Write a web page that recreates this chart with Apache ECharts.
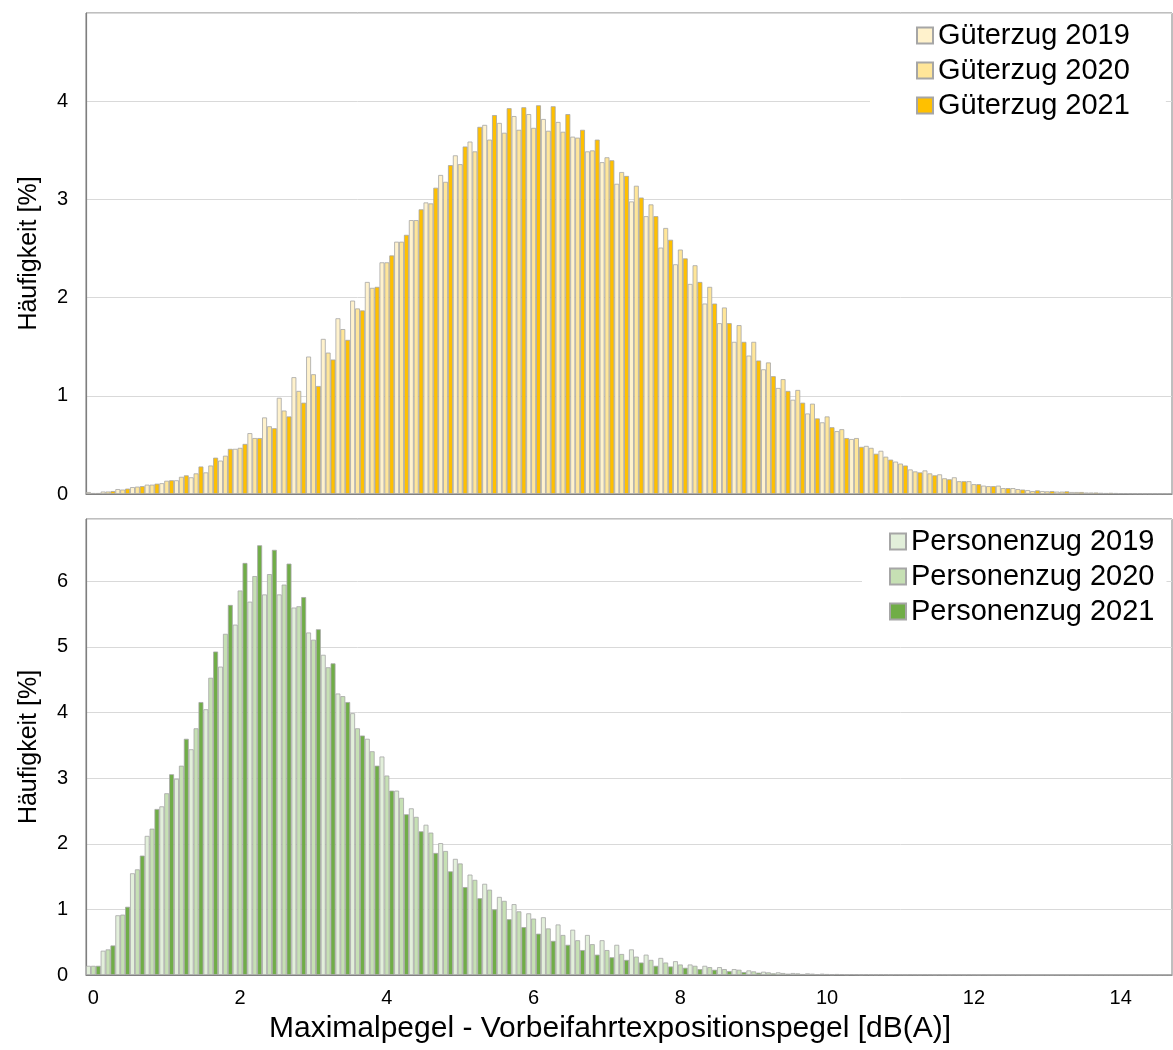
<!DOCTYPE html>
<html>
<head>
<meta charset="utf-8">
<script src="https://cdn.jsdelivr.net/npm/echarts@6/dist/echarts.min.js"></script>
<style>
html,body{margin:0;padding:0;background:#fff;}
#chart{width:1173px;height:1050px;}
</style>
</head>
<body>
<div id="chart"></div>
<script>
// Bin labels (dB(A)), 0.2 dB bins
const bins = ['0','0.2','0.4','0.6','0.8','1','1.2','1.4','1.6','1.8',
  '2','2.2','2.4','2.6','2.8','3','3.2','3.4','3.6','3.8',
  '4','4.2','4.4','4.6','4.8','5','5.2','5.4','5.6','5.8',
  '6','6.2','6.4','6.6','6.8','7','7.2','7.4','7.6','7.8',
  '8','8.2','8.4','8.6','8.8','9','9.2','9.4','9.6','9.8',
  '10','10.2','10.4','10.6','10.8','11','11.2','11.4','11.6','11.8',
  '12','12.2','12.4','12.6','12.8','13','13.2','13.4','13.6','13.8',
  '14','14.2','14.4','14.6'];
const xTickLabels = ['0','2','4','6','8','10','12','14'];

const gueter2019 = [0.02,0.025,0.05,0.07,0.095,0.11,0.14,0.17,0.22,0.34,
  0.46,0.62,0.78,0.98,1.19,1.40,1.58,1.79,1.97,2.16,
  2.36,2.57,2.79,2.97,3.25,3.45,3.59,3.76,3.78,3.85,
  3.87,3.82,3.79,3.64,3.49,3.38,3.16,2.98,2.83,2.51,
  2.34,2.14,1.94,1.74,1.55,1.41,1.27,1.08,0.96,0.82,
  0.73,0.64,0.56,0.49,0.44,0.33,0.25,0.24,0.20,0.17,
  0.13,0.085,0.085,0.06,0.04,0.03,0.024,0.02,0.015,0.012,
  0.01,0.007,0.005,0.004];
const gueter2020 = [0.01,0.025,0.045,0.075,0.095,0.135,0.175,0.21,0.29,0.39,
  0.47,0.57,0.69,0.85,1.05,1.22,1.44,1.68,1.89,2.10,
  2.36,2.57,2.79,2.96,3.18,3.36,3.49,3.61,3.68,3.71,
  3.73,3.70,3.69,3.63,3.50,3.43,3.28,3.14,2.95,2.71,
  2.49,2.33,2.11,1.90,1.72,1.55,1.34,1.17,1.06,0.92,
  0.79,0.66,0.57,0.47,0.38,0.31,0.23,0.21,0.16,0.13,
  0.10,0.08,0.06,0.05,0.03,0.027,0.024,0.02,0.015,0.01,
  0.008,0.006,0.005,0.004];
const gueter2021 = [0.01,0.03,0.055,0.08,0.105,0.14,0.19,0.28,0.37,0.46,
  0.51,0.57,0.67,0.79,0.93,1.10,1.37,1.57,1.87,2.11,
  2.43,2.64,2.90,3.12,3.35,3.54,3.74,3.86,3.93,3.94,
  3.96,3.95,3.87,3.71,3.61,3.40,3.24,3.02,2.83,2.59,
  2.40,2.16,1.94,1.74,1.55,1.36,1.20,1.05,0.93,0.77,
  0.68,0.57,0.48,0.41,0.35,0.29,0.22,0.19,0.15,0.13,
  0.10,0.08,0.06,0.045,0.037,0.03,0.027,0.02,0.015,0.012,
  0.008,0.006,0.005,0.004];

const personen2019 = [0.14,0.37,0.91,1.55,2.12,2.57,2.99,3.44,4.05,4.70,
  5.34,5.69,5.80,5.80,5.60,5.22,4.88,4.29,3.99,3.60,
  3.33,2.81,2.54,2.29,2.01,1.77,1.53,1.39,1.19,1.08,
  0.94,0.88,0.77,0.69,0.61,0.53,0.46,0.39,0.31,0.26,
  0.21,0.16,0.14,0.12,0.09,0.07,0.05,0.04,0.03,0.025,
  0.02,0.015,0.012,0.01,0.009,0.008,0.007,0.006,0.005,0.005,
  0.004,0.004,0.003,0.003,0.003,0.002,0.002,0.002,0.002,0.002,
  0.002,0.001,0.001,0.001];
const personen2020 = [0.14,0.39,0.92,1.61,2.23,2.77,3.19,3.76,4.53,5.20,
  5.86,6.08,6.11,5.95,5.62,5.11,4.69,4.25,3.76,3.41,
  3.04,2.70,2.41,2.17,1.89,1.70,1.45,1.30,1.13,0.97,
  0.86,0.71,0.61,0.53,0.47,0.38,0.32,0.28,0.23,0.19,
  0.16,0.14,0.12,0.09,0.08,0.055,0.04,0.03,0.025,0.02,
  0.015,0.012,0.01,0.008,0.007,0.006,0.005,0.005,0.004,0.004,
  0.003,0.003,0.003,0.002,0.002,0.002,0.002,0.002,0.001,0.001,
  0.001,0.001,0.001,0.001];
const personen2021 = [0.14,0.45,1.04,1.82,2.53,3.06,3.60,4.16,4.93,5.64,
  6.28,6.55,6.48,6.27,5.76,5.27,4.75,4.16,3.65,3.19,
  2.81,2.45,2.19,1.86,1.58,1.34,1.17,1.00,0.85,0.73,
  0.63,0.52,0.46,0.38,0.31,0.27,0.23,0.19,0.14,0.13,
  0.11,0.09,0.08,0.06,0.045,0.035,0.025,0.02,0.015,0.012,
  0.01,0.008,0.007,0.006,0.005,0.004,0.004,0.003,0.003,0.003,
  0.002,0.002,0.002,0.002,0.002,0.001,0.001,0.001,0.001,0.001,
  0.001,0.001,0.001,0.001];

const seriesNamesTop = ['Güterzug 2019','Güterzug 2020','Güterzug 2021'];
const seriesNamesBottom = ['Personenzug 2019','Personenzug 2020','Personenzug 2021'];
const colorsTop = ['#FFF2CC','#FFE699','#FFC000'];
const colorsBottom = ['#E2EFDA','#C6E0B4','#70AD47'];
const yName = 'Häufigkeit [%]';
const xName = 'Maximalpegel - Vorbeifahrtexpositionspegel [dB(A)]';

const FONT = 'Liberation Sans, Arial, sans-serif';
const chart = echarts.init(document.getElementById('chart'), null, {renderer:'canvas'});

function barSeries(name, data, color, idx) {
  return {
    name: name, type: 'bar', data: data,
    xAxisIndex: idx, yAxisIndex: idx,
    barGap: '0%', barCategoryGap: '0%',
    itemStyle: {color: color, borderColor: '#a6a6a6', borderWidth: 0.8},
    emphasis: {disabled: true},
    animation: false
  };
}

function yAxisCfg(idx, max) {
  return {
    gridIndex: idx, type: 'value', min: 0, max: max, interval: 1,
    name: yName, nameLocation: 'middle', nameGap: 44,
    nameTextStyle: {fontFamily: FONT, fontSize: 25, color: '#000'},
    axisLine: {show: true, lineStyle: {color: '#7f7f7f', width: 1.2}},
    axisTick: {show: false},
    axisLabel: {fontFamily: FONT, fontSize: 20, color: '#000', margin: 18,
      showMaxLabel: false,
      formatter: v => (Number.isInteger(v) ? String(v) : '')},
    splitLine: {show: true, lineStyle: {color: '#d9d9d9', width: 1}}
  };
}

const option = {
  backgroundColor: '#fff',
  animation: false,
  title: {
    text: xName, left: 610, top: 1014, textAlign: 'center', padding: 0,
    textStyle: {fontFamily: FONT, fontSize: 30, fontWeight: 'normal', color: '#000'}
  },
  grid: [
    {left: 86, top: 13, width: 1086, height: 481, show: true, borderColor: '#7f7f7f', borderWidth: 1},
    {left: 86, top: 519, width: 1086, height: 456, show: true, borderColor: '#7f7f7f', borderWidth: 1}
  ],
  legend: [
    {data: seriesNamesTop, orient: 'vertical', left: 870, top: 16,
     padding: [5, 36, 5, 46], backgroundColor: '#fff', itemWidth: 16, itemHeight: 16, itemGap: 6,
     icon: 'rect', selectedMode: false,
     textStyle: {fontFamily: FONT, fontSize: 29, color: '#000'}},
    {data: seriesNamesBottom, orient: 'vertical', left: 862, top: 522,
     padding: [5, 12, 5, 27], backgroundColor: '#fff', itemWidth: 16, itemHeight: 16, itemGap: 6,
     icon: 'rect', selectedMode: false,
     textStyle: {fontFamily: FONT, fontSize: 29, color: '#000'}}
  ],
  xAxis: [
    {gridIndex: 0, type: 'category', data: bins,
     axisLine: {show: true, lineStyle: {color: '#7f7f7f', width: 1.2}},
     axisTick: {show: false}, axisLabel: {show: false}, splitLine: {show: false}},
    {gridIndex: 1, type: 'category', data: bins,
     axisLine: {show: true, lineStyle: {color: '#7f7f7f', width: 1.2}},
     axisTick: {show: false},
     axisLabel: {interval: 0, fontFamily: FONT, fontSize: 20, color: '#000', margin: 13,
       formatter: v => (xTickLabels.indexOf(v) >= 0 ? v : '')},
     splitLine: {show: false}}
  ],
  yAxis: [yAxisCfg(0, 4.9), yAxisCfg(1, 6.95)],
  series: [
    barSeries(seriesNamesTop[0], gueter2019, colorsTop[0], 0),
    barSeries(seriesNamesTop[1], gueter2020, colorsTop[1], 0),
    barSeries(seriesNamesTop[2], gueter2021, colorsTop[2], 0),
    barSeries(seriesNamesBottom[0], personen2019, colorsBottom[0], 1),
    barSeries(seriesNamesBottom[1], personen2020, colorsBottom[1], 1),
    barSeries(seriesNamesBottom[2], personen2021, colorsBottom[2], 1)
  ]
};
chart.setOption(option);
</script>
</body>
</html>
